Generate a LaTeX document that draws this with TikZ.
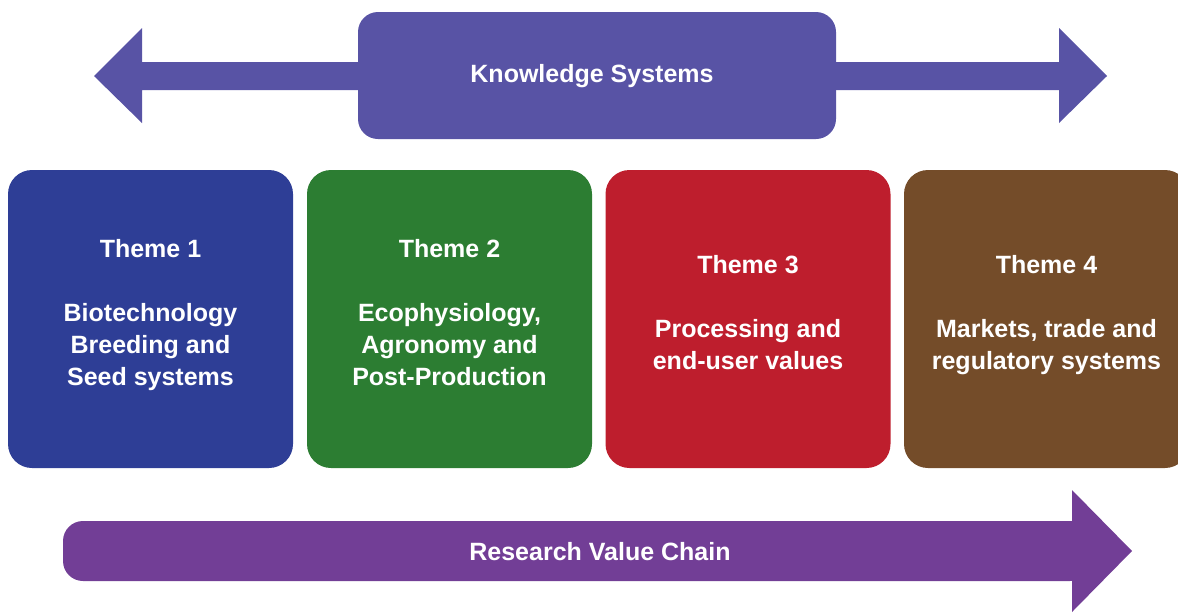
\documentclass[tikz,border=0pt]{standalone}
\usepackage{fontspec}
\setmainfont{Liberation Sans}
\definecolor{knowpurple}{RGB}{88,83,165}
\definecolor{chainpurple}{RGB}{114,62,150}
\definecolor{themeblue}{RGB}{46,62,150}
\definecolor{themegreen}{RGB}{44,125,50}
\definecolor{themered}{RGB}{190,30,45}
\definecolor{themebrown}{RGB}{116,76,41}

\begin{document}
\begin{tikzpicture}[x=0.5pt,y=-0.5pt]
\tikzstyle{theme}=[rounded corners=12pt, minimum width=142.5pt, minimum height=149pt, inner sep=0pt]
\tikzstyle{boxtext}=[text=white, font=\bfseries\fontsize{12.5}{16}\selectfont, align=center, text depth=0pt]

\useasboundingbox (0,0) rectangle (1178,612);
\clip (0,0) rectangle (1178,612);

% Knowledge Systems
\coordinate (ks_left) at (94,76);
\coordinate (ks_right) at (1107,76);
\fill[knowpurple] (ks_left) -- (142,28) -- (142,62) -- (1059,62) -- (1059,28) -- (ks_right)
  -- (1059,123) -- (1059,90) -- (142,90) -- (142,123) -- cycle;
\node at (597,75.5) [knowpurple, fill, rounded corners=10pt, minimum width=239pt, minimum height=63.5pt] (knowledge) {};
\node at (592,73) [boxtext] (knowledge_text) {Knowledge Systems};

% Themes
\foreach \n/\x/\col/\txt in {1/150.5/themeblue/{Biotechnology\\Breeding and\\Seed systems},
                             2/449.5/themegreen/{Ecophysiology,\\Agronomy and\\Post-Production},
                             3/748/themered/{Processing and\\end-user values},
                             4/1046.5/themebrown/{Markets, trade and\\regulatory systems}}
{
\node at (\x,319) [theme, fill=\col] (theme_\n) {};
\node at (\x,312) [boxtext] (theme_text_\n) {Theme \n\\[16pt]\txt};
}

% Research Value Chain
\coordinate (chain_tip) at (1132,551);
\fill[chainpurple, rounded corners=10pt] (63,521) rectangle (1090,581);
\fill[chainpurple] (1072,490) -- (chain_tip) -- (1072,612) -- cycle;
\node at (600,551) [boxtext] (chain_text) {Research Value Chain};
\end{tikzpicture}
\end{document}
